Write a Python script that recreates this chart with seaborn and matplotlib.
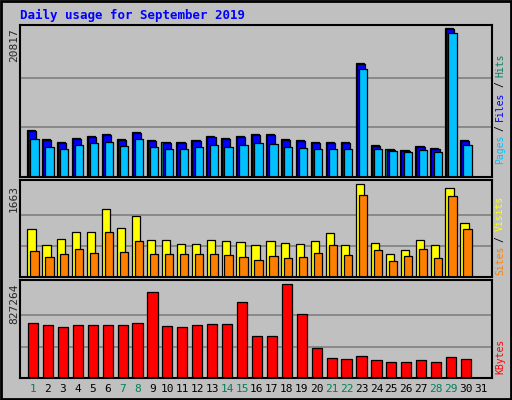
import numpy as np
import pandas as pd
import seaborn as sns
import matplotlib.pyplot as plt

days = np.arange(1, 32)
weekend = [1, 7, 8, 14, 15, 21, 22, 28, 29]

hits = [6566, 5309, 4890, 5449, 5728, 6007, 5309, 6287, 5169, 4890, 4890, 5169, 5728, 5449, 5728,
        6007, 6007, 5309, 5169, 4890, 4890, 4890, 15926, 4470, 3912, 3772, 4331, 4051, 20817, 5169, 0]
files = [6426, 5169, 4750, 5309, 5588, 5868, 5169, 6147, 5029, 4750, 4750, 5029, 5588, 5309, 5588,
         5868, 5868, 5169, 5029, 4750, 4750, 4750, 15786, 4330, 3772, 3632, 4191, 3912, 20677, 5029, 0]
pages = [5309, 4191, 3912, 4470, 4750, 4890, 4331, 5309, 4191, 3912, 3912, 4191, 4470, 4191, 4470,
         4750, 4610, 4191, 4051, 3912, 3912, 3912, 15088, 3912, 3632, 3493, 3772, 3493, 20118, 4470, 0]
visits = [864, 576, 684, 810, 810, 1224, 882, 1098, 666, 666, 594, 594, 666, 648, 630,
          576, 648, 612, 594, 648, 792, 576, 1663, 612, 414, 486, 666, 576, 1591, 972, 0]
sites = [468, 360, 414, 504, 432, 810, 450, 648, 414, 414, 414, 414, 414, 396, 360,
         306, 378, 342, 360, 432, 576, 396, 1470, 486, 288, 378, 504, 342, 1452, 864, 0]
kbytes = [484000, 466400, 448800, 466400, 466400, 466400, 466400, 484000, 756800, 457600, 448800,
          466400, 475200, 475200, 668800, 369600, 369600, 827264, 563200, 264000, 176000, 167200,
          193600, 158400, 140800, 140800, 158400, 140800, 184800, 167200, 0]

sns.set_style("white")
plt.rcParams['font.family'] = ['DejaVu Sans Mono']
bg = '#c0c0c0'
fig = plt.figure(figsize=(5.12, 4.0), dpi=100, facecolor=bg)
W, H = 512, 400


def panel(top, bot, ymax, ylim):
    ax = fig.add_axes([20 / W, 1 - bot / H, 472 / W, (bot - top) / H])
    ax.set_facecolor(bg)
    ax.set_xlim(0.13, 31.74)
    ax.set_ylim(0, ylim)
    for g in (ymax / 3, 2 * ymax / 3):
        ax.axhline(g, color='#808080', lw=1.2, zorder=0)
    ax.set_xticks([])
    ax.set_yticks([])
    for s in ax.spines.values():
        s.set_color('black')
        s.set_linewidth(1.5)
    return ax


def bars(ax, vals, off, width, color):
    df = pd.DataFrame({'x': days[:30] + off, 'y': vals[:30]})
    ax.bar(df['x'], df['y'], width=width, color=color, edgecolor='black', linewidth=0.9, zorder=2)


ax1 = panel(25, 177, 20817, 21236)
bars(ax1, hits, -0.12, 0.55, '#00805c')
bars(ax1, files, -0.05, 0.55, '#0000ff')
bars(ax1, pages, 0.1, 0.55, '#00c0ff')

ax2 = panel(180, 277, 1663, 1740)
bars(ax2, visits, -0.1, 0.55, '#ffff00')
bars(ax2, sites, 0.1, 0.55, '#ff8000')

ax3 = panel(280, 378, 827264, 862463)
sns.barplot(x=days[:30], y=kbytes[:30], native_scale=True, width=0.68, color='#ff0000',
            saturation=1, edgecolor='black', linewidth=0.9, ax=ax3, zorder=2)
ax3.set_xlim(0.13, 31.74)
ax3.set_ylim(0, 862463)
ax3.set_xticks([])
ax3.set_yticks([])
ax3.set_xlabel('')
ax3.set_ylabel('')

fig.text(20 / W, 1 - 15 / H, 'Daily usage for September 2019', color='#0000ff',
         fontsize=9, fontweight='bold', va='center')
for y, lab in [(28, '20817'), (185, '1663'), (284, '827264')]:
    fig.text(14 / W, 1 - y / H, lab, rotation=90, fontsize=8, ha='center', va='top')

for d in days:
    fig.text((33 + (d - 1) * 14.93) / W, 1 - 389 / H, str(d), fontsize=8, ha='center', va='center',
             color='#00805c' if d in weekend else 'black')


def side(parts, ybottom):
    y = ybottom
    for txt, col in parts:
        n = len(txt)
        fig.text(500 / W, 1 - (y - n * 3.3) / H, txt, rotation=90, fontsize=7, color=col,
                 ha='center', va='center')
        y -= n * 6.6 + 2


side([('Pages', '#00c0ff'), ('/', 'black'), ('Files', '#0000ff'), ('/', 'black'), ('Hits', '#00805c')], 166)
side([('Sites', '#ff8000'), ('/', 'black'), ('Visits', '#ffff00')], 277)
side([('KBytes', '#ff0000')], 376)

fig.patches.append(plt.Rectangle((1 / W, 1 / H), 1 - 2 / W, 1 - 2 / H, transform=fig.transFigure,
                                 fill=False, edgecolor='black', lw=2))
fig.savefig('out.png', dpi=100, facecolor=bg)
